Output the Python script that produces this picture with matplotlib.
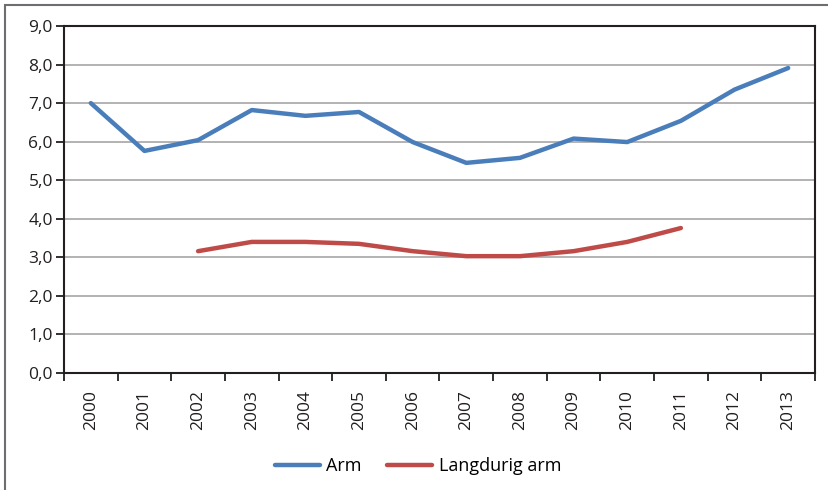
import matplotlib
matplotlib.use("Agg")
import matplotlib.pyplot as plt
import numpy as np
from matplotlib.patches import Rectangle

years = ["2000", "2001", "2002", "2003", "2004", "2005", "2006",
         "2007", "2008", "2009", "2010", "2011", "2012", "2013"]
arm = [7.0, 5.76, 6.04, 6.82, 6.67, 6.77, 5.99, 5.45, 5.58, 6.08, 5.99, 6.54, 7.35, 7.91]
langdurig = [np.nan, np.nan, 3.16, 3.40, 3.40, 3.35, 3.16, 3.03, 3.03, 3.16, 3.40, 3.76, np.nan, np.nan]
yticks = [0, 1, 2, 3, 4, 5, 6, 7, 8, 9]

plt.rcParams['font.family'] = ['Open Sans', 'DejaVu Sans']

W, H = 829, 490
fig = plt.figure(figsize=(W / 100, H / 100), dpi=100)
ax = fig.add_axes([64 / W, 1 - 373 / H, (815 - 64) / W, (373 - 26) / H])

x = np.arange(len(years))
ax.plot(x, arm, color='#4a7ebb', lw=3.2, solid_capstyle='round', label='Arm', zorder=3)
ax.plot(x, langdurig, color='#be4b48', lw=3.2, solid_capstyle='round', label='Langdurig arm', zorder=3)

ax.set_xlim(-0.5, len(years) - 0.5)
ax.set_ylim(0, 9)
ax.set_yticks(yticks)
ax.set_yticklabels([f"{v:.1f}".replace('.', ',') for v in yticks], fontsize=12.5, color='#231f20')
ax.set_xticks(x)
ax.set_xticklabels(years, rotation=90, fontsize=12.5, color='#231f20')
ax.set_xticks(np.arange(-0.5, len(years), 1), minor=True)
ax.tick_params(axis='x', which='major', length=0, pad=12)
ax.tick_params(axis='x', which='minor', length=6, width=1.3, direction='out', color='#231f20')
ax.tick_params(axis='y', length=6, width=1.3, direction='out', color='#231f20', pad=2)

ax.yaxis.grid(True, color='#a6a6a6', lw=1.2)
ax.set_axisbelow(True)
for s in ax.spines.values():
    s.set_color('#231f20')
    s.set_linewidth(1.5)

fig.legend(loc='center', bbox_to_anchor=(418 / W, 1 - 466 / H), ncol=2, frameon=False,
           fontsize=13, handlelength=2.5, columnspacing=1.4, handletextpad=0.35)

fig.patches.append(Rectangle((5 / W, -0.05), 1.2, 1 - 5 / H + 0.05, transform=fig.transFigure,
                             fill=False, edgecolor='#6d6e71', lw=1.5))

fig.savefig('out.png', dpi=100)
